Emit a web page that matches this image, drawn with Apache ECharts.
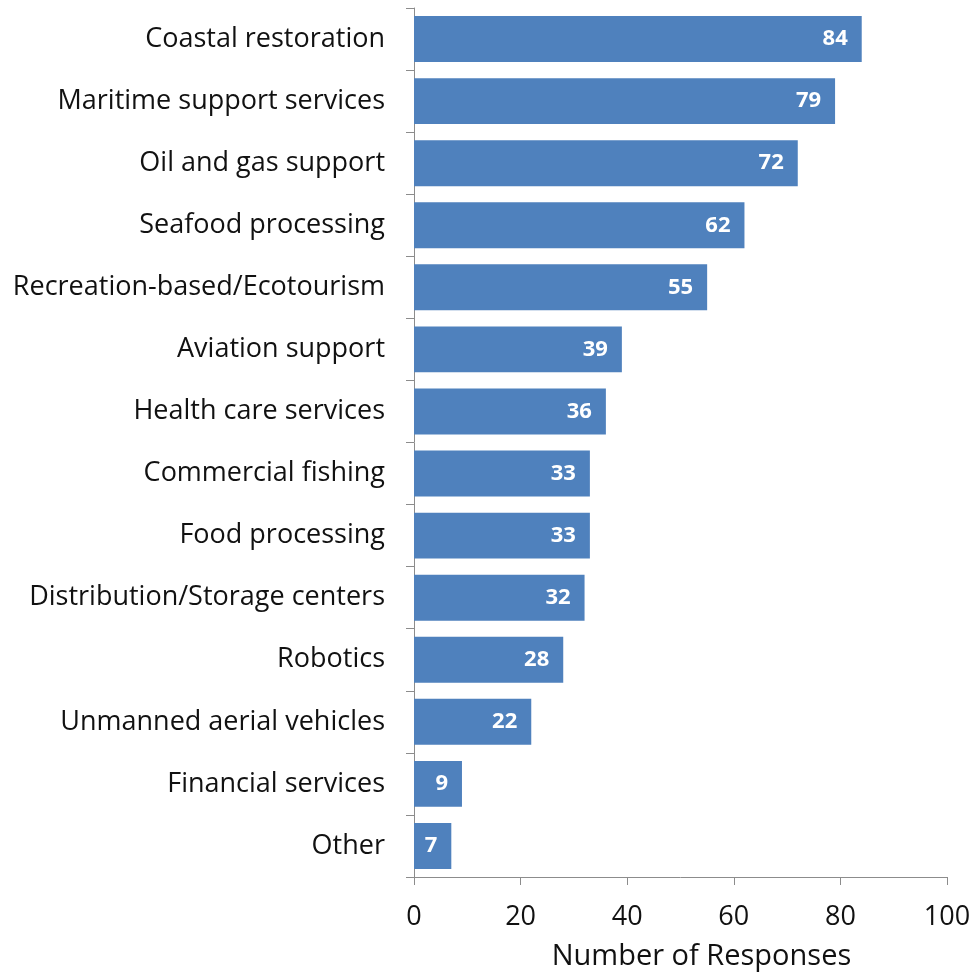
<!DOCTYPE html>
<html>
<head>
<meta charset="utf-8">
<script src="https://cdn.jsdelivr.net/npm/echarts@6/dist/echarts.min.js"></script>
<style>
  html, body { margin: 0; padding: 0; background: #ffffff; }
  #chart { width: 974px; height: 975px; }
</style>
</head>
<body>
<div id="chart"></div>
<script>
// Survey responses by industry sector
const categories = [
  'Coastal restoration',
  'Maritime support services',
  'Oil and gas support',
  'Seafood processing',
  'Recreation-based/Ecotourism',
  'Aviation support',
  'Health care services',
  'Commercial fishing',
  'Food processing',
  'Distribution/Storage centers',
  'Robotics',
  'Unmanned aerial vehicles',
  'Financial services',
  'Other'
];
const responses = [84, 79, 72, 62, 55, 39, 36, 33, 33, 32, 28, 22, 9, 7];
const xTicks = [0, 20, 40, 60, 80, 100];

const FONT = '"Open Sans", "Liberation Sans", sans-serif';
const AXIS_GRAY = '#8c8c8c';
const TEXT = '#111111';

const chart = echarts.init(document.getElementById('chart'), null, { renderer: 'canvas' });

chart.setOption({
  animation: false,
  backgroundColor: '#ffffff',
  grid: {
    left: 414, right: 27, top: 8, bottom: 98,
    containLabel: false,
    outerBoundsMode: 'none'
  },
  xAxis: {
    type: 'value',
    min: xTicks[0],
    max: xTicks[xTicks.length - 1],
    interval: xTicks[1] - xTicks[0],
    name: 'Number of Responses',
    nameLocation: 'middle',
    nameGap: 65,
    nameTextStyle: { fontFamily: FONT, fontSize: 29, color: TEXT, padding: [0, 0, 0, 42] },
    axisLine: { show: true, lineStyle: { color: AXIS_GRAY, width: 1 } },
    axisTick: { show: true, length: 8, lineStyle: { color: AXIS_GRAY } },
    axisLabel: { fontFamily: FONT, fontSize: 27, color: TEXT, margin: 27 },
    splitLine: { show: false }
  },
  yAxis: {
    type: 'category',
    data: categories,
    inverse: true,
    axisLine: { show: true, lineStyle: { color: AXIS_GRAY, width: 1 } },
    axisTick: { show: true, length: 8, lineStyle: { color: AXIS_GRAY } },
    axisLabel: { fontFamily: FONT, fontSize: 27, color: TEXT, margin: 29, padding: [10, 0, 0, 0] }
  },
  series: [{
    type: 'bar',
    data: responses,
    barCategoryGap: '26%',
    itemStyle: { color: '#4f81bd' },
    label: {
      show: true,
      position: 'insideRight',
      distance: 14,
      color: '#ffffff',
      fontFamily: FONT,
      fontWeight: 'bold',
      fontSize: 22,
      padding: [5, 0, 0, 0]
    }
  }]
});
</script>
</body>
</html>
